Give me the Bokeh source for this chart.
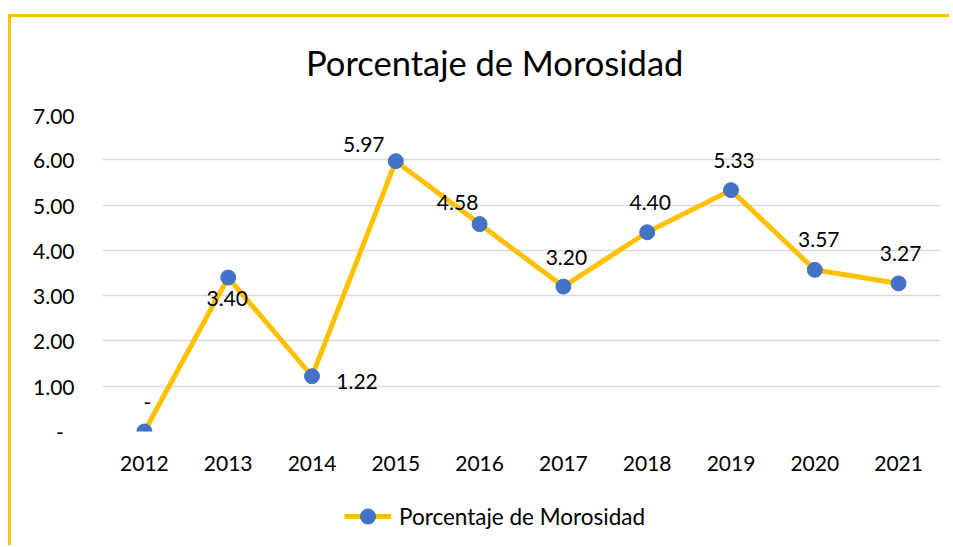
from bokeh.plotting import figure
from bokeh.layouts import column
from bokeh.models import (ColumnDataSource, FactorRange, Range1d, Legend, LegendItem,
                          FixedTicker, Label)
from bokeh.core.properties import value
from bokeh.embed import file_html
from bokeh.resources import INLINE

# ---- data ----
years = ["2012", "2013", "2014", "2015", "2016", "2017", "2018", "2019", "2020", "2021"]
morosidad = [0.00, 3.40, 1.22, 5.97, 4.58, 3.20, 4.40, 5.33, 3.57, 3.27]
y_ticks = [0, 1, 2, 3, 4, 5, 6, 7]
title_text = "Porcentaje de Morosidad"
series_name = "Porcentaje de Morosidad"

# label placement (screen offsets from each point, style only)
label_dx = [3, -1, 45, -32, -22, 3, 3, 3, 4, 2]
label_dy = [-29, 21, 5, -17, -22, -29, -30, -30, -30, -30]

FONT = "Lato"
LINE_COLOR = "#FFC000"
MARKER_COLOR = "#4472C4"

labels = ["-" if v == 0 else f"{v:.2f}" for v in morosidad]
src = ColumnDataSource(dict(x=years, y=morosidad, lab=labels, dx=label_dx, dy=label_dy))


def strip(height, x_range, y_range):
    f = figure(width=938, height=height, x_range=x_range, y_range=y_range,
               x_axis_type=None, y_axis_type=None, output_backend="svg",
               toolbar_location=None, min_border=0)
    f.outline_line_color = None
    f.grid.visible = False
    f.background_fill_color = "white"
    f.border_fill_color = "white"
    return f


# ---------------- title strip ----------------
tf = strip(85, Range1d(0, 938), Range1d(0, 85))
tf.add_layout(Label(x=439, y=40, text=title_text, text_align="center", text_baseline="middle",
                    text_font=FONT, text_font_size="34.5px", text_color="#000000"))

# ---------------- main chart ----------------
p = figure(width=938, height=388, x_range=FactorRange(*years), y_range=Range1d(0, 7),
           output_backend="svg", toolbar_location=None,
           min_border_left=91, min_border_right=9, min_border_top=12, min_border_bottom=59)
p.outline_line_color = None
p.background_fill_color = "white"
p.border_fill_color = "white"

p.yaxis.ticker = FixedTicker(ticks=y_ticks)
p.yaxis.major_label_overrides = {t: ("-\u00a0\u00a0" if t == 0 else f"{t:.2f}") for t in y_ticks}
for ax in (p.xaxis, p.yaxis):
    ax.axis_line_color = None
    ax.major_tick_line_color = None
    ax.minor_tick_line_color = None
    ax.major_tick_out = 0
    ax.major_tick_in = 0
    ax.major_label_text_font = FONT
    ax.major_label_text_font_size = "21px"
    ax.major_label_text_color = "#000000"
p.yaxis.major_label_standoff = 28
p.xaxis.major_label_standoff = 24

p.xgrid.grid_line_color = None
p.ygrid.grid_line_color = "#D9D9D9"
p.ygrid.grid_line_width = 1.3
p.ygrid.ticker = FixedTicker(ticks=y_ticks)

p.line("x", "y", source=src, line_color=LINE_COLOR, line_width=5, line_join="round")
p.scatter("x", "y", source=src, size=15, fill_color=MARKER_COLOR, line_color=MARKER_COLOR)
p.text("x", "y", text="lab", source=src, x_offset="dx", y_offset="dy",
       text_align="center", text_baseline="middle",
       text_font=value(FONT), text_font_size="21px", text_color="#000000")

# ---------------- legend strip ----------------
lf = strip(55, FactorRange(*years), Range1d(100, 101))
l_line = lf.line("x", "y", source=src, line_color=LINE_COLOR, line_width=5)
l_pts = lf.scatter("x", "y", source=src, size=15, fill_color=MARKER_COLOR, line_color=MARKER_COLOR)
legend = Legend(items=[LegendItem(label=series_name, renderers=[l_line, l_pts])],
                location=(242, 10), orientation="horizontal",
                glyph_width=47, glyph_height=38, label_standoff=8,
                padding=0, margin=0, border_line_color=None, background_fill_alpha=0,
                label_text_font=FONT, label_text_font_size="22.5px", label_text_color="#000000")
lf.add_layout(legend, "center")

page = column(tf, p, lf, spacing=0,
              styles={"border-left": "3px solid #FFC000", "border-top": "3px solid #FFC000",
                      "margin-left": "8px", "margin-top": "14px"})

open("out.html", "w").write(file_html(page, INLINE))
